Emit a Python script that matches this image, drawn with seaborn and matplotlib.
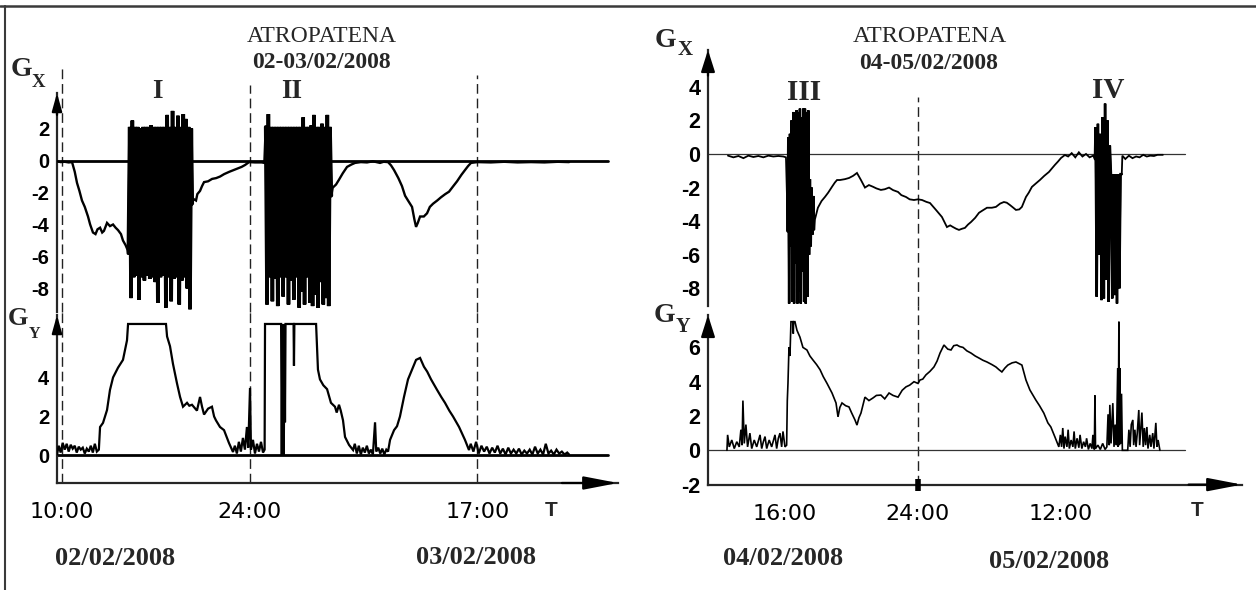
import numpy as np
import pandas as pd
import matplotlib
matplotlib.use("Agg")
import matplotlib.pyplot as plt
from matplotlib.lines import Line2D
import seaborn as sns

sns.set_style("white")
plt.rcParams["font.family"] = ["Liberation Sans", "DejaVu Sans"]
plt.rcParams["path.simplify"] = False

# ------------------------------------------------------------------
# Session 02-03/02/2008, time in hours from 02/02/2008 00:00
# ------------------------------------------------------------------
gx_a_time = [
    9.63, 9.9, 10.2, 10.5, 10.75, 10.95, 11.12, 11.3, 11.49, 11.7, 11.94, 12.1,
    12.31, 12.5, 12.65, 12.84, 13.0, 13.13, 13.36, 13.58, 13.81, 14.0, 14.18,
    14.4, 14.55, 14.75, 14.9,
    # event I
    14.95, 15.05, 15.15, 15.25, 15.35, 15.45, 15.55, 15.65, 15.75, 15.85, 15.95,
    16.05, 16.15, 16.25, 16.35, 16.45, 16.55, 16.65, 16.75, 16.85, 16.95, 17.05,
    17.15, 17.25, 17.35, 17.45, 17.55, 17.65, 17.75, 17.85, 17.95, 18.05, 18.15,
    18.25, 18.35, 18.45, 18.55, 18.65, 18.75, 18.85, 18.95, 19.05, 19.15, 19.25,
    19.35, 19.45, 19.55, 19.65, 19.72,
    19.8, 20.0, 20.1, 20.3, 20.45, 20.6, 20.9, 21.2, 21.5, 21.8, 22.1, 22.5,
    22.8, 23.1, 23.4, 23.66, 23.96, 24.4, 24.9, 25.1,
    # event II
    25.2, 25.3, 25.4, 25.5, 25.6, 25.7, 25.8, 25.9, 26.0, 26.1, 26.2, 26.3,
    26.4, 26.5, 26.6, 26.7, 26.8, 26.9, 27.0, 27.1, 27.2, 27.3, 27.4, 27.5,
    27.6, 27.7, 27.8, 27.9, 28.0, 28.1, 28.2, 28.3, 28.4, 28.5, 28.6, 28.7,
    28.8, 28.9, 29.0, 29.1, 29.2, 29.3, 29.4, 29.5, 29.6, 29.7, 29.8, 29.9,
    30.0, 30.1,
    30.2, 30.45, 30.67, 30.95, 31.27, 31.6, 31.87, 32.3, 32.76, 33.2, 33.73,
    34.0, 34.33, 34.55, 34.78, 35.1, 35.37, 35.6, 35.82, 36.12, 36.3, 36.42,
    36.55, 36.72, 37.0, 37.24, 37.45, 37.69, 38.0, 38.28, 38.6, 38.88, 39.2,
    39.48, 39.8, 40.07, 40.3, 40.52, 41.0, 42.0, 43.0, 44.0, 45.0, 46.0, 47.0,
    47.84,
]
gx_a_val = [
    -0.05, -0.1, -0.08, -0.12, -0.1, -0.7, -1.4, -1.9, -2.5, -2.9, -3.5, -4.0,
    -4.5, -4.6, -4.3, -4.2, -4.5, -4.4, -3.9, -4.1, -4.0, -4.2, -4.35,
    -4.6, -5.0, -5.3, -5.6,
    -5.8, 2.1, -8.6, 2.5, -7.3, 2.1, -7.2, 2.1, -8.7, 2.0, -7.3,
    2.1, -7.5, 2.1, -7.2, 2.1, -7.4, 2.2, -7.3, 2.1, -7.6, 2.1,
    -8.9, 2.1, -7.3, 2.1, -7.2, 2.1, -9.2, 2.85, -7.3, 2.1, -8.8,
    3.1, -7.4, 2.1, -7.3, 2.8, -9.0, 2.1, -7.5, 2.9, -7.3, 2.6,
    -8.0, 2.1, -9.3, 2.0, -2.7,
    -2.4, -2.5, -2.1, -1.9, -1.6, -1.35, -1.3, -1.15, -1.1, -1.0, -0.85, -0.7,
    -0.6, -0.5, -0.4, -0.28, -0.1, -0.12, -0.12, -0.15,
    2.1, -9.0, 2.9, -7.3, 2.1, -8.8, 2.1, -7.4, 2.1, -9.1, 2.1, -7.3,
    2.1, -8.5, 2.1, -7.3, 2.1, -9.0, 2.1, -7.5, 2.1, -8.7, 2.1, -7.3,
    2.1, -9.2, 2.1, -8.2, 2.7, -9.0, 2.1, -7.3, 2.1, -8.9, 2.2, -9.1,
    2.85, -8.4, 2.1, -9.2, 2.1, -7.6, 2.3, -9.0, 2.1, -8.6, 2.85, -9.1,
    2.1, -2.2,
    -1.7, -1.5, -1.2, -0.8, -0.4, -0.25, -0.15, -0.1, -0.12, -0.05, -0.15,
    -0.08, -0.1, -0.3, -0.6, -1.1, -1.6, -2.2, -2.5, -2.9, -3.7, -4.15,
    -3.9, -3.5, -3.5, -3.3, -2.9, -2.7, -2.5, -2.3, -2.1, -1.95, -1.6,
    -1.3, -0.9, -0.6, -0.35, -0.15, -0.1, -0.12, -0.08, -0.12, -0.1, -0.12, -0.08,
    -0.1,
]

gy_a_time = [
    9.63, 9.75, 9.9, 10.05, 10.2, 10.35, 10.5, 10.65, 10.8, 10.95, 11.1, 11.25,
    11.4, 11.55, 11.7, 11.85, 12.0, 12.15, 12.3, 12.45, 12.6, 12.75,
    12.84, 13.06, 13.36, 13.58, 13.81, 14.18, 14.55, 14.7, 14.85, 14.93,
    17.69, 17.76, 17.84, 18.06, 18.28, 18.58, 18.81, 19.03, 19.33, 19.5, 19.7,
    20.07, 20.3, 20.45, 20.6, 20.9, 21.19, 21.35, 21.49, 21.79, 22.09, 22.46,
    22.76,
    22.9, 23.05, 23.2, 23.35, 23.5, 23.65, 23.8, 23.9, 24.03, 24.1, 24.25, 24.4,
    24.55, 24.7, 24.85, 25.0, 25.12,
    25.15, 26.35, 26.4, 26.45, 26.55, 26.6, 26.64, 26.68, 27.28, 27.31, 27.34,
    28.96,
    29.1, 29.25, 29.5, 29.78, 30.07, 30.37, 30.5, 30.67, 30.8, 30.97, 31.12,
    31.42, 31.72,
    31.85, 32.0, 32.15, 32.3, 32.45, 32.6, 32.75, 32.9, 33.05, 33.2, 33.36,
    33.45, 33.6, 33.75, 33.9, 34.05, 34.2, 34.33,
    34.48, 34.78, 35.0, 35.22, 35.52, 35.82, 36.12, 36.42, 36.72, 37.01, 37.25,
    37.54, 37.99, 38.3, 38.58, 38.9, 39.18, 39.63, 40.07, 40.37,
    40.5, 40.7, 40.9, 41.1, 41.3, 41.5, 41.7, 41.9, 42.1, 42.3, 42.5, 42.7,
    42.9, 43.1, 43.3, 43.5, 43.7, 43.9, 44.1, 44.3, 44.5, 44.7, 44.9, 45.1,
    45.3, 45.5, 45.7, 45.9, 46.1, 46.3, 46.5, 46.7, 46.9, 47.1, 47.3, 47.5,
    47.7, 47.84,
]
gy_a_val = [
    0.05, 0.5, 0.15, 0.65, 0.3, 0.6, 0.2, 0.55, 0.35, 0.5, 0.15, 0.45,
    0.3, 0.4, 0.1, 0.35, 0.2, 0.5, 0.15, 0.6, 0.2, 0.3,
    1.46, 1.67, 2.33, 3.36, 4.0, 4.5, 4.9, 5.4, 5.9, 6.74,
    6.74, 6.74, 6.1, 5.6, 4.7, 3.7, 3.0, 2.5, 2.7, 2.55, 2.6,
    2.3, 3.0, 2.5, 2.1, 2.4, 2.5, 2.0, 1.8, 1.46, 1.3, 0.64,
    0.18,
    0.5, 0.1, 0.7, 0.2, 0.9, 0.3, 1.46, 0.4, 3.46, 0.3, 0.8, 0.1,
    0.6, 0.2, 0.7, 0.15, 0.3,
    6.74, 6.74, 0.0, 6.74, 0.0, 6.74, 1.7, 6.74, 6.74, 4.6, 6.74,
    6.74,
    4.4, 3.9, 3.6, 3.4, 2.7, 2.5, 2.2, 2.6, 2.3, 1.8, 0.95,
    0.54, 0.28,
    0.6, 0.1, 0.5, 0.05, 0.4, 0.15, 0.5, 0.1, 0.3, 0.05, 1.7,
    0.2, 0.4, 0.1, 0.35, 0.05, 0.3, 0.2,
    0.8, 1.3, 1.5, 2.0, 3.0, 3.9, 4.4, 4.9, 5.0, 4.55, 4.3,
    3.9, 3.36, 3.0, 2.7, 2.3, 2.0, 1.46, 0.8, 0.28,
    0.6, 0.2, 0.7, 0.1, 0.5, 0.2, 0.45, 0.1, 0.4, 0.15, 0.5, 0.1,
    0.35, 0.05, 0.4, 0.1, 0.3, 0.1, 0.35, 0.05, 0.25, 0.1, 0.3, 0.05,
    0.45, 0.1, 0.3, 0.05, 0.6, 0.1, 0.25, 0.05, 0.3, 0.1, 0.2, 0.05,
    0.15, 0.05,
]

# ------------------------------------------------------------------
# Session 04-05/02/2008, time in hours from 04/02/2008 00:00
# ------------------------------------------------------------------
gx_b_time = [
    12.57, 12.9, 13.2, 13.5, 13.8, 14.1, 14.4, 14.7, 15.0, 15.3, 15.6, 15.9,
    16.06, 16.12, 16.15,
    # event III
    16.2, 16.25, 16.3, 16.35, 16.4, 16.45, 16.5, 16.55, 16.6, 16.65, 16.7,
    16.75, 16.8, 16.85, 16.9, 16.95, 17.0, 17.05, 17.1, 17.15, 17.2, 17.25,
    17.3, 17.35, 17.4, 17.45, 17.5, 17.55, 17.6, 17.65, 17.7, 17.75,
    17.8, 17.98, 18.2, 18.41, 18.6, 18.83, 19.0, 19.13, 19.31, 19.6, 19.85,
    20.1, 20.33, 20.57, 20.81, 21.05, 21.29, 21.5, 21.77, 22.0, 22.26, 22.5,
    22.8, 23.0, 23.28, 23.5, 23.76, 24.0, 24.34, 24.7, 25.01, 25.51, 26.01,
    26.43, 26.7, 26.94, 27.2, 27.44, 27.7, 27.94, 28.2, 28.45, 28.8, 29.12,
    29.45, 29.79, 30.2, 30.54, 30.9, 31.21, 31.45, 31.72, 32.0, 32.22, 32.5,
    32.72, 33.06, 33.3, 33.56, 33.9, 34.23, 34.6, 34.99, 35.25, 35.49, 35.75,
    36.0, 36.33, 36.6, 36.9, 37.2, 37.5, 37.8, 38.1, 38.4, 38.7, 38.85,
    # event IV
    38.9, 39.0, 39.1, 39.2, 39.3, 39.4, 39.5, 39.6, 39.7, 39.8, 39.9, 40.0,
    40.1, 40.2, 40.3, 40.4, 40.5, 40.6, 40.7, 40.8, 40.9, 41.0, 41.1,
    41.15, 41.4, 41.7, 42.0, 42.3, 42.6, 42.9, 43.2, 43.5, 43.8, 44.1, 44.55,
]
gx_b_val = [
    -0.1, -0.2, -0.12, -0.25, -0.1, -0.18, -0.12, -0.2, -0.1, -0.15, -0.12, -0.15,
    -0.2, -2.5, -4.6,
    1.0, -8.9, 1.2, -5.5, 2.0, -8.8, 2.5, -8.9, 2.2, -6.5, 2.6,
    -8.9, 2.5, -8.2, 2.7, -8.9, 2.2, -7.0, 2.7, -8.8, 2.7, -8.9,
    2.5, -8.5, 2.6, -6.0, -1.5, -5.5, -2.0, -4.8, -2.5, -4.5,
    -3.9, -3.2, -2.8, -2.55, -2.3, -1.95, -1.7, -1.55, -1.55, -1.5, -1.43,
    -1.3, -1.13, -1.55, -2.0, -1.85, -1.95, -2.05, -2.14, -2.1, -2.0, -2.15,
    -2.26, -2.45, -2.56, -2.7, -2.74, -2.7, -2.74, -2.85, -2.92, -3.33, -3.75,
    -4.35, -4.25, -4.35, -4.45, -4.52, -4.45, -4.4, -4.2, -4.05, -3.8, -3.5,
    -3.35, -3.2, -3.2, -3.15, -2.95, -2.86, -2.9, -3.04, -3.2, -3.33, -3.3,
    -3.15, -2.56, -2.3, -1.96, -1.75, -1.55, -1.3, -1.07, -0.85, -0.65, -0.45,
    -0.24, -0.06, -0.15, 0.05, -0.2, 0.1, -0.15, 0.0, -0.2, -0.1, -0.3,
    1.6, -8.5, 1.8, -6.0, 1.2, -8.7, 2.2, -8.6, 3.0, -7.5, 2.0, -8.8,
    0.5, -1.3, -8.6, -1.2, -8.4, -1.2, -8.9, -1.2, -8.0, -1.2, -1.2,
    -0.1, -0.3, -0.1, -0.25, -0.15, -0.2, -0.05, -0.15, -0.1, -0.12, -0.05, -0.05,
]

gy_b_time = [
    12.51, 12.55, 12.65, 12.8, 12.95, 13.1, 13.25, 13.35, 13.42, 13.47, 13.55,
    13.65, 13.75, 13.89, 14.0, 14.15, 14.3, 14.5, 14.6, 14.7, 14.8, 14.9,
    15.05, 15.2, 15.4, 15.5, 15.6, 15.7, 15.8, 15.88, 16.0, 16.1,
    16.14, 16.18, 16.24, 16.3, 16.36, 16.48, 16.5, 16.52, 16.6, 16.72, 16.9,
    17.08, 17.32, 17.5, 17.68, 17.9, 18.11, 18.3, 18.53, 18.83, 19.07, 19.19,
    19.3, 19.43, 19.65, 19.85, 20.0, 20.21, 20.33, 20.45, 20.57, 20.81, 21.05,
    21.29, 21.5, 21.77, 22.0, 22.26, 22.5, 22.8, 23.05, 23.28, 23.5, 23.76,
    24.0, 24.17, 24.4, 24.67, 25.0, 25.34, 25.6, 25.85, 26.18, 26.5, 26.77,
    27.0, 27.27, 27.5, 27.78, 28.1, 28.45, 28.8, 29.12, 29.45, 29.79, 30.2,
    30.54, 30.8, 31.04, 31.3, 31.54, 31.9, 32.22, 32.5, 32.72, 33.06, 33.39,
    33.89, 34.2, 34.56, 34.9, 35.15, 35.49, 35.82,
    35.95, 36.05, 36.15, 36.25, 36.35, 36.5, 36.6, 36.7, 36.85, 37.0, 37.1,
    37.2, 37.35, 37.5, 37.6, 37.75, 37.9, 38.05, 38.15, 38.3, 38.45, 38.6,
    38.68, 38.8, 38.85, 38.9, 39.1, 39.3, 39.5, 39.7, 39.85, 39.95, 40.05,
    40.1, 40.2, 40.35, 40.45, 40.55, 40.65, 40.76, 40.8, 40.86, 40.9, 40.94,
    41.0, 41.08, 41.15, 41.6, 41.7, 41.8, 41.9, 42.03, 42.1, 42.2, 42.3,
    42.4, 42.53, 42.6, 42.79, 42.9, 43.0, 43.1, 43.21, 43.3, 43.45, 43.55,
    43.7, 43.8, 43.96, 44.05, 44.15, 44.3,
]
gy_b_val = [
    0.0, 0.9, 0.2, 0.6, 0.1, 0.5, 0.2, 1.2, 0.3, 2.9, 0.4,
    1.5, 0.2, 1.0, 0.1, 0.6, 0.2, 0.9, 0.1, 0.5, 0.8, 0.1,
    0.6, 0.2, 0.9, 0.1, 0.7, 1.0, 0.2, 1.1, 0.2, 0.3,
    2.9, 3.9, 6.0, 5.5, 7.5, 7.5, 6.8, 7.5, 7.5, 7.0, 6.6,
    6.0, 5.85, 5.5, 5.27, 5.0, 4.7, 4.3, 3.9, 3.34, 2.76, 1.95,
    2.5, 2.76, 2.6, 2.53, 2.2, 1.77, 1.47, 1.9, 2.17, 3.1, 2.9,
    3.05, 3.2, 3.22, 3.0, 3.34, 3.2, 3.1, 3.5, 3.7, 3.8, 4.0,
    3.9, 4.1, 4.15, 4.4, 4.6, 4.86, 5.2, 5.67, 6.14, 5.9, 5.85,
    6.1, 6.14, 6.05, 6.0, 5.8, 5.67, 5.5, 5.38, 5.25, 5.15, 5.0,
    4.86, 4.7, 4.57, 4.8, 4.97, 5.1, 5.15, 5.05, 4.97, 4.1, 3.52,
    2.93, 2.6, 2.17, 1.6, 1.36, 0.78, 0.2,
    0.9, 0.2, 1.3, 0.1, 0.8, 0.2, 1.2, 0.1, 0.6, 0.2, 1.1,
    0.1, 0.7, 0.15, 0.9, 0.1, 0.5, 0.2, 0.7, 0.05, 0.4, 0.1,
    0.9, 0.05, 3.2, 0.1, 0.3, 0.05, 0.4, 0.05, 0.2, 2.1, 0.3,
    2.65, 0.4, 2.75, 0.2, 1.5, 0.3, 4.8, 0.2, 7.5, 0.3, 4.8,
    0.4, 3.3, 0.0, 0.0, 1.2, 0.2, 1.5, 1.77, 0.3, 1.2, 0.2,
    1.0, 2.35, 0.3, 2.2, 0.2, 1.3, 0.3, 1.36, 0.1, 0.9, 0.2,
    1.0, 0.1, 1.6, 0.2, 0.6, 0.0,
]

# time windows of the oscillation events (hours)
events_a = [(14.93, 19.72), (25.15, 30.1)]
events_b = [(16.15, 17.75), (38.85, 41.1)]

# axis ticks and labels
gx_a_ticks = [2, 0, -2, -4, -6, -8]
gy_a_ticks = [0, 2, 4, 6]
gy_a_ticklabels = ["0", "2", "4", ""]
gx_b_ticks = [4, 2, 0, -2, -4, -6, -8]
gy_b_ticks = [6, 4, 2, 0, -2]
t_a_ticks = [10, 24, 41]
t_a_labels = ["10:00", "24:00", "17:00"]
t_b_ticks = [16, 24, 36]
t_b_labels = ["16:00", "24:00", "12:00"]

# ------------------------------------------------------------------
W, H = 1256, 590
fig = plt.figure(figsize=(W / 100, H / 100), dpi=100)
fig.patch.set_facecolor("white")


def box(x0, y0, x1, y1):
    return [x0 / W, 1 - y1 / H, (x1 - x0) / W, (y1 - y0) / H]


def ftext(x, y, s, **kw):
    fig.text(x / W, 1 - y / H, s, **kw)


# drawn T-axis of the second session: 16:00 -> 24:00 -> 12:00
KNOT_H = (16.0, 24.0, 36.0)
KNOT_P = (0.0, 133.0, 276.0)
S0 = (KNOT_P[1] - KNOT_P[0]) / (KNOT_H[1] - KNOT_H[0])
S1 = (KNOT_P[2] - KNOT_P[1]) / (KNOT_H[2] - KNOT_H[1])


def t_fwd(h):
    h = np.asarray(h, dtype=float)
    return np.where(h < KNOT_H[1], KNOT_P[0] + (h - KNOT_H[0]) * S0,
                    KNOT_P[1] + (h - KNOT_H[1]) * S1)


def t_inv(p):
    p = np.asarray(p, dtype=float)
    return np.where(p < KNOT_P[1], KNOT_H[0] + (p - KNOT_P[0]) / S0,
                    KNOT_H[1] + (p - KNOT_P[1]) / S1)


ax_gx_a = fig.add_axes(box(57, 93, 618, 312))
ax_gy_a = fig.add_axes(box(57, 315, 618, 483))
ax_gx_b = fig.add_axes(box(708, 50, 1242, 306))
ax_gy_b = fig.add_axes(box(708, 315, 1242, 484.6))

for ax in (ax_gx_a, ax_gy_a, ax_gx_b, ax_gy_b):
    ax.set_facecolor("none")
    for side in ("top", "right"):
        ax.spines[side].set_visible(False)
    ax.spines["left"].set_linewidth(1.6)
    ax.spines["bottom"].set_linewidth(1.6)
for ax in (ax_gx_a, ax_gx_b):
    ax.spines["bottom"].set_visible(False)

XL_A = (9.627, 51.49)
XL_B = (11.37, 51.19)

# zero levels
ax_gx_a.axhline(0, xmin=0, xmax=0.982, color="black", lw=2.0, zorder=2)
ax_gy_a.axhline(0, xmin=0, xmax=0.982, color="black", lw=2.0, zorder=2)
ax_gx_b.axhline(0, xmin=0, xmax=0.893, color="#333333", lw=0.9, zorder=2)
ax_gy_b.axhline(0, xmin=0, xmax=0.893, color="#333333", lw=0.9, zorder=2)

# day / reference time markers
dash = dict(color="#222222", lw=1.0, ls=(0, (7, 3.5)), clip_on=False, zorder=1)
ax_gx_a.axvline(t_a_ticks[0], ymin=0, ymax=1.119, **dash)
ax_gx_a.axvline(t_a_ticks[1], ymin=0, ymax=1.037, **dash)
ax_gx_a.axvline(t_a_ticks[2], ymin=0, ymax=1.082, **dash)
for t in t_a_ticks:
    ax_gy_a.axvline(t, ymin=0, ymax=1.02, **dash)
ax_gx_b.axvline(t_b_ticks[1], ymin=0, ymax=0.816, **dash)
ax_gy_b.axvline(t_b_ticks[1], ymin=0, ymax=1.053, **dash)


def trace(ax, df, lw):
    sns.lineplot(data=df, x="t", y="v", ax=ax, color="black", linewidth=lw,
                 sort=False, estimator=None, legend=False, zorder=3)
    ax.lines[-1].set_solid_joinstyle("miter")


# traces; the dense oscillation events are drawn with a heavier pen
series = [
    (ax_gx_a, gx_a_time, gx_a_val, 1.7, events_a, 2.6),
    (ax_gy_a, gy_a_time, gy_a_val, 1.6, [], 0),
    (ax_gx_b, gx_b_time, gx_b_val, 1.3, events_b, 1.8),
    (ax_gy_b, gy_b_time, gy_b_val, 1.2, [], 0),
]
for ax, t, v, lw, events, lw_ev in series:
    df = pd.DataFrame({"t": t, "v": v})
    trace(ax, df, lw)
    for t0, t1 in events:
        trace(ax, df[(df["t"] >= t0) & (df["t"] <= t1)], lw_ev)
    ax.set_xlabel("")
    ax.set_ylabel("")

for ax in (ax_gx_b, ax_gy_b):
    ax.set_xscale("function", functions=(t_fwd, t_inv))

ax_gx_a.set_xlim(*XL_A)
ax_gy_a.set_xlim(*XL_A)
ax_gx_b.set_xlim(*XL_B)
ax_gy_b.set_xlim(*XL_B)
ax_gx_a.set_ylim(-9.47, 4.22)
ax_gy_a.set_ylim(-1.41, 7.2)
ax_gx_b.set_ylim(-9.05, 6.19)
ax_gy_b.set_ylim(-2.0, 7.89)


# y ticks
def style_y(ax, ticks, labels, minor, size):
    ax.set_yticks(ticks)
    ax.set_yticklabels(labels)
    ax.set_yticks(minor, minor=True)
    ax.tick_params(axis="y", which="major", direction="out", length=4.5,
                   width=3.2, pad=1, labelsize=size, colors="black")
    ax.tick_params(axis="y", which="minor", direction="out", length=3,
                   width=1.0, colors="black")
    for lbl in ax.get_yticklabels():
        lbl.set_fontfamily("Liberation Sans")
        lbl.set_fontweight("bold")


style_y(ax_gx_a, gx_a_ticks, [str(v) for v in gx_a_ticks], list(range(-9, 5)), 14.5)
style_y(ax_gy_a, gy_a_ticks, gy_a_ticklabels, list(range(-1, 8)), 14.5)
style_y(ax_gx_b, gx_b_ticks, [str(v) for v in gx_b_ticks], list(range(-9, 7)), 15.5)
style_y(ax_gy_b, gy_b_ticks, [str(v) for v in gy_b_ticks], list(range(-2, 8)), 15.5)

for ax in (ax_gx_a, ax_gx_b):
    ax.tick_params(axis="x", which="both", bottom=False, labelbottom=False)

# time axes
ax_gy_a.set_xticks(t_a_ticks)
ax_gy_a.set_xticklabels(t_a_labels)
ax_gy_a.set_xticks(list(range(10, 52)), minor=True)
ax_gy_b.set_xticks(t_b_ticks)
ax_gy_b.set_xticklabels(t_b_labels)
minor_b = [KNOT_H[0] + 1.2 * k for k in range(-3, 7)] + \
          [KNOT_H[1] + 12.0 / 7.0 * k for k in range(1, 16)]
ax_gy_b.set_xticks(minor_b, minor=True)
for ax in (ax_gy_a, ax_gy_b):
    ax.tick_params(axis="x", which="major", direction="out", length=6,
                   width=1.6, pad=8, labelsize=16, colors="black")
    ax.tick_params(axis="x", which="minor", direction="out", length=3.5,
                   width=1.0, colors="black")
    for lbl in ax.get_xticklabels():
        lbl.set_fontfamily("DejaVu Sans")
# thick mark at midnight of the second session
ax_gy_b.plot([t_b_ticks[1]], [0], transform=ax_gy_b.get_xaxis_transform(),
             marker=(2, 0, 0), markersize=9, markeredgewidth=4, color="black",
             clip_on=False, zorder=5)


# axis arrows
def arrow(ax, xy, xytext, scale, hl, hw):
    ax.annotate("", xy=xy, xytext=xytext, xycoords="axes fraction",
                textcoords="axes fraction", annotation_clip=False,
                arrowprops=dict(arrowstyle=f"-|>,head_length={hl},head_width={hw}",
                                color="black", lw=1.6, shrinkA=0, shrinkB=0,
                                mutation_scale=scale))


arrow(ax_gx_a, (0, 1.0), (0, 0.9), 12, 0.9, 0.25)
arrow(ax_gy_a, (0, 1.0), (0, 0.9), 12, 0.9, 0.25)
arrow(ax_gx_b, (0, 1.0), (0, 0.9), 12, 1.1, 0.35)
arrow(ax_gy_b, (0, 1.0), (0, 0.9), 12, 1.1, 0.35)
arrow(ax_gy_a, (1.0, 0), (0.9, 0), 16, 1.3, 0.25)
arrow(ax_gy_b, (1.0, 0), (0.9, 0), 16, 1.3, 0.25)

# frame
fig.add_artist(Line2D([0, 1], [1 - 6 / H, 1 - 6 / H], transform=fig.transFigure,
                      color="#3a3a3a", lw=1.8))
fig.add_artist(Line2D([5 / W, 5 / W], [0, 1 - 6 / H], transform=fig.transFigure,
                      color="#3a3a3a", lw=1.5))

# titles and labels
serif = "Liberation Serif"
ftext(322, 42, "ATROPATENA", ha="center", va="baseline", family=serif, fontsize=17)
ftext(321, 68, "02-03/02/2008", ha="center", va="baseline", family=serif,
      fontweight="bold", fontsize=17)
ftext(930, 42, "ATROPATENA", ha="center", va="baseline", family=serif, fontsize=17.5)
ftext(929, 69, "04-05/02/2008", ha="center", va="baseline", family=serif,
      fontweight="bold", fontsize=17)

ftext(157, 98, "I", ha="center", va="baseline", family=serif, fontweight="bold", fontsize=19.5)
ftext(292, 98, "II", ha="center", va="baseline", family=serif, fontweight="bold", fontsize=19.5)
ftext(804, 100, "III", ha="center", va="baseline", family=serif, fontweight="bold", fontsize=21)
ftext(1108, 98, "IV", ha="center", va="baseline", family=serif, fontweight="bold", fontsize=21)

ftext(21, 76, "G", ha="center", va="baseline", family=serif, fontweight="bold", fontsize=20)
ftext(38, 87, "X", ha="center", va="baseline", family=serif, fontweight="bold", fontsize=13.5)
ftext(18, 325, "G", ha="center", va="baseline", family=serif, fontweight="bold", fontsize=19)
ftext(35, 338, "Y", ha="center", va="baseline", family=serif, fontweight="bold", fontsize=11.5)
ftext(665, 47, "G", ha="center", va="baseline", family=serif, fontweight="bold", fontsize=20)
ftext(685, 55, "X", ha="center", va="baseline", family=serif, fontweight="bold", fontsize=15)
ftext(664, 322, "G", ha="center", va="baseline", family=serif, fontweight="bold", fontsize=20)
ftext(683, 332, "Y", ha="center", va="baseline", family=serif, fontweight="bold", fontsize=14.5)

ftext(551, 516, "T", ha="center", va="baseline", family="Liberation Sans",
      fontweight="bold", fontsize=15)
ftext(1197, 516, "T", ha="center", va="baseline", family="Liberation Sans",
      fontweight="bold", fontsize=15)

ftext(115, 565, "02/02/2008", ha="center", va="baseline", family=serif,
      fontweight="bold", fontsize=19)
ftext(476, 564, "03/02/2008", ha="center", va="baseline", family=serif,
      fontweight="bold", fontsize=19)
ftext(783, 565, "04/02/2008", ha="center", va="baseline", family=serif,
      fontweight="bold", fontsize=19)
ftext(1049, 568, "05/02/2008", ha="center", va="baseline", family=serif,
      fontweight="bold", fontsize=19)

fig.savefig("out.png", dpi=100, facecolor="white")
